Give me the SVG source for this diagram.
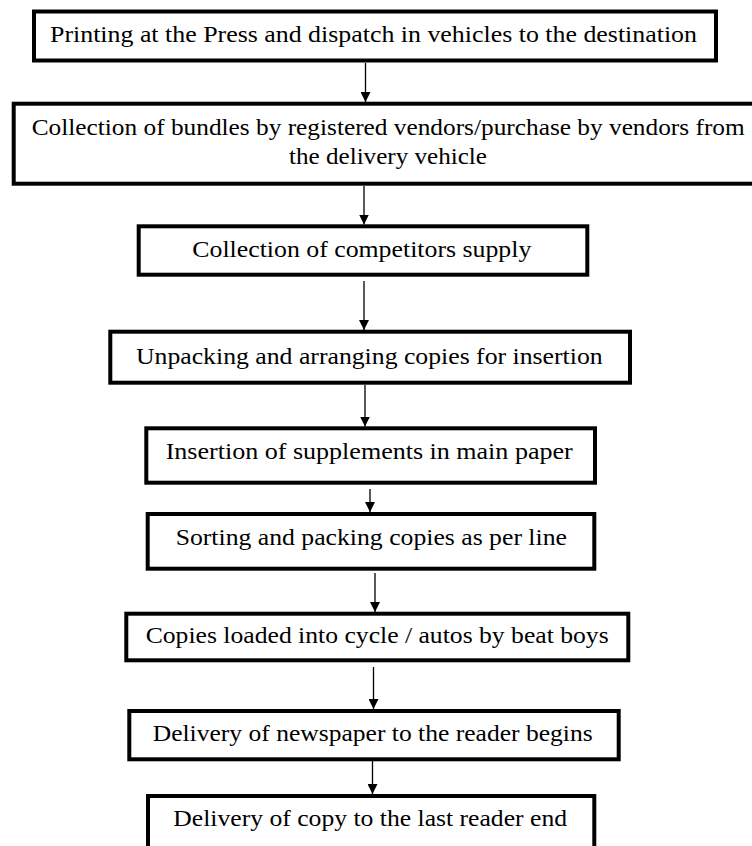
<svg xmlns="http://www.w3.org/2000/svg" width="752" height="846" viewBox="0 0 752 846">
  <defs>
    <marker id="arrow" markerUnits="userSpaceOnUse" markerWidth="10" markerHeight="10" refX="10" refY="5" orient="auto">
      <path d="M0,0 L10,5 L0,10 z" fill="#000"/>
    </marker>
    <style>
      .box { fill: #fff; stroke: #000; stroke-width: 4; }
      .lbl { font-family: 'Liberation Serif', 'Times New Roman', Tinos, 'Nimbus Roman', Times, serif; font-size: 24px; fill: #000; text-anchor: middle; }
      .conn { stroke: #000; stroke-width: 1.3; fill: none; marker-end: url(#arrow); }
    </style>
  </defs>
  <rect width="752" height="846" fill="#fff"/>

  <g id="connectors">
    <line class="conn" x1="365.5" y1="63" x2="365.5" y2="102"/>
    <line class="conn" x1="364" y1="186" x2="364" y2="224.5"/>
    <line class="conn" x1="364" y1="281" x2="364" y2="330"/>
    <line class="conn" x1="365" y1="385" x2="365" y2="426.5"/>
    <line class="conn" x1="370" y1="489" x2="370" y2="512"/>
    <line class="conn" x1="375" y1="573" x2="375" y2="612"/>
    <line class="conn" x1="373.5" y1="667" x2="373.5" y2="709"/>
    <line class="conn" x1="372.5" y1="761" x2="372.5" y2="794"/>
  </g>

  <g font-family="Liberation Serif, Times New Roman, serif">
  <g id="n1">
    <rect class="box" x="34" y="11.5" width="682" height="49"/>
    <text class="lbl" x="373.5" y="41.7" textLength="647" lengthAdjust="spacingAndGlyphs">Printing at the Press and dispatch in vehicles to the destination</text>
  </g>
  <g id="n2">
    <rect class="box" x="13.7" y="103.7" width="745" height="80"/>
    <text class="lbl" x="388.2" y="135" textLength="713" lengthAdjust="spacingAndGlyphs">Collection of bundles by registered vendors/purchase by vendors from</text>
    <text class="lbl" x="388" y="164" textLength="198" lengthAdjust="spacingAndGlyphs">the delivery vehicle</text>
  </g>
  <g id="n3">
    <rect class="box" x="138.7" y="226.3" width="448.6" height="48.4"/>
    <text class="lbl" x="361.8" y="256.7" textLength="339" lengthAdjust="spacingAndGlyphs">Collection of competitors supply</text>
  </g>
  <g id="n4">
    <rect class="box" x="110.3" y="331.7" width="519.7" height="51"/>
    <text class="lbl" x="369.3" y="363.7" textLength="466.7" lengthAdjust="spacingAndGlyphs">Unpacking and arranging copies for insertion</text>
  </g>
  <g id="n5">
    <rect class="box" x="146.3" y="428.3" width="448.7" height="54.4"/>
    <text class="lbl" x="369.2" y="459.3" textLength="407" lengthAdjust="spacingAndGlyphs">Insertion of supplements in main paper</text>
  </g>
  <g id="n6">
    <rect class="box" x="147.7" y="514" width="446.6" height="54.7"/>
    <text class="lbl" x="371.3" y="545.3" textLength="391.3" lengthAdjust="spacingAndGlyphs">Sorting and packing copies as per line</text>
  </g>
  <g id="n7">
    <rect class="box" x="126.3" y="613.7" width="502" height="46.6"/>
    <text class="lbl" x="377.2" y="643" textLength="463" lengthAdjust="spacingAndGlyphs">Copies loaded into cycle / autos by beat boys</text>
  </g>
  <g id="n8">
    <rect class="box" x="129.3" y="711" width="489.4" height="48.3"/>
    <text class="lbl" x="372.7" y="740.7" textLength="440" lengthAdjust="spacingAndGlyphs">Delivery of newspaper to the reader begins</text>
  </g>
  <g id="n9">
    <rect class="box" x="148" y="796" width="446.3" height="60"/>
    <text class="lbl" x="370.2" y="825.7" textLength="393.7" lengthAdjust="spacingAndGlyphs">Delivery of copy to the last reader end</text>
  </g>
  </g>
</svg>
